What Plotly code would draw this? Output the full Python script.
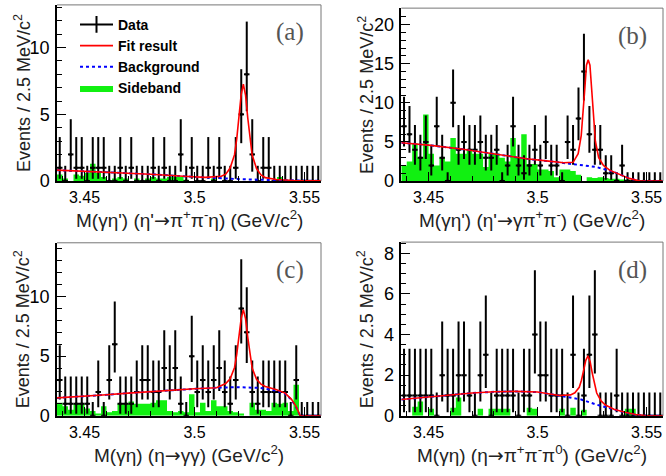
import numpy as np
import plotly.graph_objects as go

W, H = 666, 476
X0, BW, NB = 3.4375, 0.0025, 48
centers = X0 + BW * (np.arange(NB) + 0.5)
edges = X0 + BW * np.arange(NB + 1)

# ---------------- data ----------------
counts_a = [1,0,2,1,1,0,1,1,1,0, 0,1,0,1,0,0,0,1,0,1, 0,0,2,0,1,0,0,1,0,1,
            0,0,1,5,8,2,0,1,1,0, 0,0,0,0,0,0,0,0]
counts_b = [7,6,4,3,5,2,7,3,0,10, 4,5,4,4,5,3,3,4,0,2, 7,2,1,2,4,2,5,2,2,0,
            5,4,8,14,6,4,4,1,1,0, 2,0,0,0,0,0,0,0]
counts_c = [3,1,1,1,1,1,0,2,0,3, 6,1,1,1,2,3,3,2,2,4, 3,4,1,0,5,2,3,2,3,4,
            2,1,3,9,7,2,1,2,2,2, 2,2,0,3,0,0,0,0]
counts_d = [1,1,1,1,1,1,0,2,1,1, 2,2,1,0,2,3,0,1,1,1, 1,0,1,1,4,2,2,1,1,1,
            0,3,0,1,3,4,0,0,0,1, 0,0,0,0,0,0,0,0]

side_a = [0.5,0.2,0.0,0.5,0.4,0.6,1.3,0.6,0.3,0.0, 0.2,0.3,0.2,0.0,0.2,0.0,0.2,0.3,0.2,0.2,
          0.3,0.3,0.3,0.1,0.0,0.0,0.0,0.0,0.2,0.0, 0.0,0.0,0.0,0.0,0.0,0.0,0.0,0.0,0.0,0.0,
          0.3,0.0,0,0,0,0,0,0]
side_b = [2.0,2.5,4.8,3.0,8.5,3.5,2.0,3.0,2.5,5.5, 3.5,3.5,4.0,3.5,3.5,1.8,3.5,3.5,3.0,2.5,
          5.5,3.0,6.0,2.2,2.2,1.5,1.5,1.3,0.5,1.5, 1.5,1.3,0.8,0.0,0.5,0.4,0.5,0.4,0.3,0.3,
          0.2,0.2,0.1,0,0,0,0,0]
side_c = [1.1,0.8,0.5,1.0,1.0,0.6,0.4,0.2,0.8,0.3, 0.4,1.0,1.0,1.2,1.0,1.0,1.0,1.1,1.3,1.3,
          0.4,0.3,0.4,0.3,1.8,0.3,1.1,0.4,1.3,0.8, 0.8,0.4,0.3,0.2,0.0,1.1,0.5,0.5,0.4,1.1,
          1.0,1.1,0.4,2.6,0,0,0,0]
side_d = [0,0,0.45,0.7,0.0,0.35,0,0,0,0.4, 0.9,0,0,0,0.35,0,0.35,0.35,0.35,0.35,
          0,0,0,0.4,0.35,0,0,0,0,0.35, 0,0.4,0,0.3,0,0,0,0,0,0,
          0,0.35,0.35,0,0,0,0,0]

bkg_a_x = [3.4375, 3.46, 3.48, 3.495, 3.51, 3.52, 3.53, 3.54, 3.55, 3.5575]
bkg_a_y = [0.82, 0.68, 0.52, 0.36, 0.22, 0.15, 0.10, 0.06, 0.03, 0.02]
fit_a_x = [3.4375, 3.46, 3.48, 3.495, 3.505, 3.5122, 3.5142, 3.5162, 3.5182, 3.5192, 3.5202,
           3.5212, 3.5222, 3.5232, 3.5242, 3.5252, 3.5262, 3.5282, 3.5302, 3.5322, 3.5372,
           3.545, 3.5575]
fit_a_y = [0.82, 0.68, 0.52, 0.37, 0.28, 0.36, 0.52, 0.98, 1.98, 3.17, 4.77,
           6.46, 7.26, 6.45, 4.75, 3.15, 1.95, 0.94, 0.46, 0.26, 0.12,
           0.05, 0.02]

bkg_b_x = [3.4375, 3.45, 3.465, 3.48, 3.495, 3.505, 3.516, 3.527, 3.5346, 3.5422, 3.5467, 3.5575]
bkg_b_y = [4.9, 4.6, 4.1, 3.5, 2.85, 2.55, 2.2, 1.8, 1.2, 0.35, 0.0, 0.0]
fit_b_x = [3.4375, 3.45, 3.465, 3.48, 3.495, 3.505, 3.512, 3.5163, 3.5186, 3.5200, 3.5209,
           3.5217, 3.5224, 3.5232, 3.5240, 3.5251, 3.5265, 3.528, 3.5302, 3.533, 3.537,
           3.542, 3.547, 3.5575]
fit_b_y = [4.9, 4.6, 4.1, 3.5, 2.85, 2.55, 2.35, 2.4, 3.5, 5.8, 8.7,
           12.0, 14.8, 15.5, 14.8, 10.5, 5.1, 3.0, 2.0, 1.4, 0.95,
           0.35, 0.0, 0.0]

bkg_c_x = [3.4375, 3.45, 3.46, 3.47, 3.48, 3.49, 3.50, 3.51, 3.52, 3.53, 3.537, 3.5412,
           3.5440, 3.5460, 3.548, 3.5575]
bkg_c_y = [1.5, 1.62, 1.76, 1.9, 2.03, 2.15, 2.26, 2.35, 2.4, 2.33, 2.1, 1.85,
           1.35, 0.8, 0.0, 0.0]
fit_c_x = [3.4375, 3.45, 3.46, 3.47, 3.48, 3.49, 3.50, 3.51, 3.5122, 3.5142, 3.5162, 3.5182,
           3.5192, 3.5202, 3.5212, 3.5222, 3.5232, 3.5242, 3.5252, 3.5262, 3.5282, 3.5302,
           3.5322, 3.537, 3.5412, 3.544, 3.546, 3.548, 3.5575]
fit_c_y = [1.5, 1.62, 1.76, 1.9, 2.03, 2.15, 2.26, 2.35, 2.5, 2.7, 3.1, 4.05,
           5.15, 6.6, 8.15, 8.9, 8.15, 6.6, 5.1, 4.0, 3.05, 2.65,
           2.45, 2.2, 1.9, 1.4, 0.85, 0.02, 0.0]

bkg_d_x = [3.4375, 3.45, 3.46, 3.47, 3.48, 3.49, 3.50, 3.51, 3.516, 3.52, 3.527, 3.535,
           3.54, 3.545, 3.55, 3.5575]
bkg_d_y = [0.8, 0.92, 1.03, 1.12, 1.18, 1.2, 1.17, 1.0, 0.9, 0.8, 0.55, 0.3,
           0.16, 0.05, 0.0, 0.0]
fit_d_x = [3.4375, 3.45, 3.46, 3.47, 3.48, 3.49, 3.50, 3.51, 3.5151, 3.5171, 3.5191, 3.5201,
           3.5211, 3.5221, 3.5231, 3.5241, 3.5251, 3.5261, 3.5271, 3.5291, 3.5311, 3.535,
           3.54, 3.545, 3.55, 3.5575]
fit_d_y = [0.8, 0.92, 1.03, 1.12, 1.18, 1.2, 1.17, 1.0, 1.03, 1.13, 1.4, 1.75,
           2.23, 2.73, 2.95, 2.66, 2.08, 1.53, 1.12, 0.73, 0.53, 0.32,
           0.17, 0.06, 0.0, 0.0]

x_ticks = [3.45, 3.5, 3.55]
x_ticklabels = ["3.45", "3.5", "3.55"]

# Poisson (Garwood) 68% intervals, RooFit convention for n = 0
POIS_LO = {0: 0.0, 1: 0.173, 2: 0.708, 3: 1.367, 4: 2.086, 5: 2.840, 6: 3.620, 7: 4.419,
           8: 5.232, 9: 6.057, 10: 6.891, 11: 7.734, 12: 8.585, 13: 9.441, 14: 10.30, 15: 11.17}
POIS_HI = {0: 1.148, 1: 3.300, 2: 4.638, 3: 5.918, 4: 7.163, 5: 8.382, 6: 9.584, 7: 10.77,
           8: 11.95, 9: 13.11, 10: 14.27, 11: 15.42, 12: 16.56, 13: 17.70, 14: 18.83, 15: 19.96}

GREEN = "#11f011"
FONT = "Liberation Sans"
ARROW = '<span style="font-family:DejaVu Sans">→</span>'

panels = [
    dict(counts=counts_a, side=side_a, bx=bkg_a_x, by=bkg_a_y, fx=fit_a_x, fy=fit_a_y,
         xd=[57, 321], yd=[5, 185], yr=[0, 13.2], ymaj=5, ymin=1,
         xt="M(γη') (η'" + ARROW + "π<sup>+</sup>π<sup>-</sup>η) (GeV/c<sup>2</sup>)", lab="(a)"),
    dict(counts=counts_b, side=side_b, bx=bkg_b_x, by=bkg_b_y, fx=fit_b_x, fy=fit_b_y,
         xd=[401.3, 663], yd=[8.3, 185], yr=[0, 22.1], ymaj=5, ymin=1,
         xt="M(γη') (η'" + ARROW + "γπ<sup>+</sup>π<sup>-</sup>) (GeV/c<sup>2</sup>)", lab="(b)"),
    dict(counts=counts_c, side=side_c, bx=bkg_c_x, by=bkg_c_y, fx=fit_c_x, fy=fit_c_y,
         xd=[57, 321], yd=[248, 424.7], yr=[0, 14.5], ymaj=5, ymin=1,
         xt="M(γη) (η" + ARROW + "γγ) (GeV/c<sup>2</sup>)", lab="(c)"),
    dict(counts=counts_d, side=side_d, bx=bkg_d_x, by=bkg_d_y, fx=fit_d_x, fy=fit_d_y,
         xd=[401.3, 663], yd=[247.3, 424.7], yr=[0, 8.55], ymaj=2, ymin=0.5,
         xt="M(γη) (η" + ARROW + "π<sup>+</sup>π<sup>-</sup>π<sup>0</sup>) (GeV/c<sup>2</sup>)", lab="(d)"),
]

fig = go.Figure()
layout = dict(width=W, height=H, margin=dict(l=0, r=0, t=0, b=0),
              paper_bgcolor="white", plot_bgcolor="white", showlegend=True)
annotations, shapes = [], []

for i, p in enumerate(panels, start=1):
    xa = "x" if i == 1 else f"x{i}"
    ya = "y" if i == 1 else f"y{i}"
    first = (i == 1)
    side = p["side"]
    fig.add_trace(go.Scatter(
        x=edges, y=list(side) + [side[-1]], mode="lines",
        line=dict(shape="hv", width=0, color=GREEN), fill="tozeroy", fillcolor=GREEN,
        name="Sideband", showlegend=first, legendrank=4, xaxis=xa, yaxis=ya, hoverinfo="skip"))
    c = p["counts"]
    lo = [n - POIS_LO[n] for n in c]
    hi = [POIS_HI[n] - n for n in c]
    fig.add_trace(go.Scatter(
        x=centers, y=c, mode="markers", marker=dict(size=3, color="black"),
        error_y=dict(type="data", symmetric=False, array=hi, arrayminus=lo,
                     color="black", thickness=2, width=0),
        error_x=dict(type="constant", value=BW / 2, color="black", thickness=2, width=0),
        name="Data", showlegend=False, xaxis=xa, yaxis=ya))
    fig.add_trace(go.Scatter(
        x=p["bx"], y=p["by"], mode="lines", line=dict(color="#0000ff", width=2, dash="dot"),
        name="Background", showlegend=first, legendrank=3, xaxis=xa, yaxis=ya))
    fig.add_trace(go.Scatter(
        x=p["fx"], y=p["fy"], mode="lines", line=dict(color="#ff0000", width=1.6),
        name="Fit result", showlegend=first, legendrank=2, xaxis=xa, yaxis=ya))
    if first:
        fig.add_trace(go.Scatter(
            x=[None], y=[None], mode="lines+markers", line=dict(color="black", width=2),
            marker=dict(symbol="line-ns", size=12, line=dict(color="black", width=2)),
            name="Data", legendrank=1, xaxis=xa, yaxis=ya))

    xd = [p["xd"][0] / W, p["xd"][1] / W]
    yd = [1 - p["yd"][1] / H, 1 - p["yd"][0] / H]
    key_x = "xaxis" if i == 1 else f"xaxis{i}"
    key_y = "yaxis" if i == 1 else f"yaxis{i}"
    layout[key_x] = dict(
        domain=xd, anchor=ya, range=[X0, X0 + NB * BW], tickvals=x_ticks, ticktext=x_ticklabels,
        ticks="inside", ticklen=9, tickwidth=1, tickcolor="black",
        minor=dict(dtick=0.01, tick0=3.45, ticks="inside", ticklen=5, tickcolor="black"),
        showline=True, linecolor="black", linewidth=1.5, showgrid=False, zeroline=False,
        tickfont=dict(family=FONT, size=16, color="black"), ticklabelstandoff=1)
    layout[key_y] = dict(
        domain=yd, anchor=xa, range=p["yr"], dtick=p["ymaj"], tick0=0,
        ticks="inside", ticklen=9, tickwidth=1, tickcolor="black",
        minor=dict(dtick=p["ymin"], ticks="inside", ticklen=5, tickcolor="black"),
        showline=True, linecolor="black", linewidth=1.5, showgrid=False, zeroline=False,
        tickfont=dict(family=FONT, size=18, color="black"), ticklabelstandoff=2)
    # top/right frame
    shapes.append(dict(type="line", xref=f"{xa} domain", yref=f"{ya} domain",
                       x0=0, x1=1, y0=1, y1=1, line=dict(color="#777777", width=1)))
    shapes.append(dict(type="line", xref=f"{xa} domain", yref=f"{ya} domain",
                       x0=1, x1=1, y0=0, y1=1, line=dict(color="#777777", width=1)))
    # axis titles
    xc = (p["xd"][0] + p["xd"][1]) / 2
    annotations.append(dict(text=p["xt"], xref="paper", yref="paper",
                            x=xc / W, y=1 - (p["yd"][1] + 39) / H, xanchor="center", yanchor="middle",
                            showarrow=False, font=dict(family=FONT, size=19, color="#222222")))
    yc = (p["yd"][0] + p["yd"][1]) / 2
    annotations.append(dict(text="Events / 2.5 MeV/c<sup>2</sup>", xref="paper", yref="paper",
                            x=(p["xd"][0] - 35) / W, y=1 - yc / H, textangle=-90,
                            xanchor="center", yanchor="middle", showarrow=False,
                            font=dict(family=FONT, size=18, color="#222222")))
    annotations.append(dict(text=p["lab"], xref="paper", yref="paper",
                            x=(p["xd"][1] - 31) / W, y=1 - (p["yd"][0] + 28) / H,
                            xanchor="center", yanchor="middle", showarrow=False,
                            font=dict(family="Liberation Serif", size=25, color="#555555")))

layout["annotations"] = annotations
layout["shapes"] = shapes
layout["legend"] = dict(x=75 / W, y=1 - 9 / H, xanchor="left", yanchor="top",
                        bgcolor="rgba(0,0,0,0)", borderwidth=0, itemwidth=33,
                        font=dict(family=FONT, size=14, color="black", weight="bold"),
                        traceorder="normal")
fig.update_layout(**layout)
fig.write_html("out.html")
